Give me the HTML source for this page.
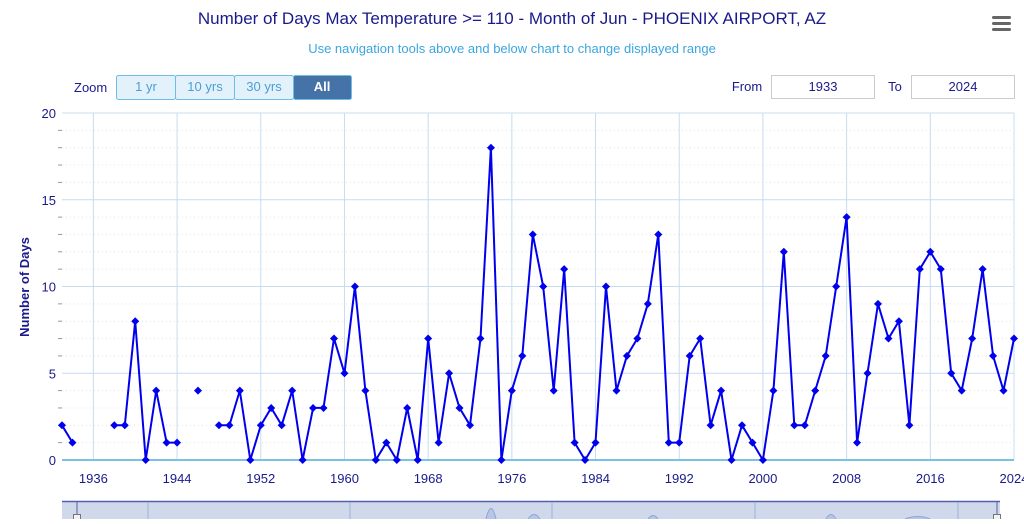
<!DOCTYPE html>
<html><head><meta charset="utf-8"><style>
body{margin:0;background:#fff;width:1024px;height:519px;overflow:hidden;font-family:"Liberation Sans",sans-serif}
</style></head><body>
<svg id="s" width="1024" height="519" xmlns="http://www.w3.org/2000/svg" font-family="Liberation Sans, sans-serif">
<text x="512" y="24" text-anchor="middle" font-size="17" fill="#1a1a8c">Number of Days Max Temperature &gt;= 110 - Month of Jun - PHOENIX AIRPORT, AZ</text>
<text x="512" y="53" text-anchor="middle" font-size="13" fill="#3aa6e0">Use navigation tools above and below chart to change displayed range</text>
<g fill="#666"><rect x="992" y="16" width="19" height="3" rx="1.5"/><rect x="992" y="22" width="19" height="3" rx="1.5"/><rect x="992" y="28" width="19" height="3" rx="1.5"/></g>
<text x="74" y="92" font-size="13" fill="#1a1a8c">Zoom</text>
<g font-size="13" text-anchor="middle">
<rect x="116.5" y="75.5" width="59" height="24" rx="2" fill="#e3f1fb" stroke="#6cbde8"/><text x="146" y="91" fill="#4a9fd6">1 yr</text>
<rect x="175.5" y="75.5" width="59" height="24" rx="2" fill="#e3f1fb" stroke="#6cbde8"/><text x="205" y="91" fill="#4a9fd6">10 yrs</text>
<rect x="234.5" y="75.5" width="59" height="24" rx="2" fill="#e3f1fb" stroke="#6cbde8"/><text x="264" y="91" fill="#4a9fd6">30 yrs</text>
<rect x="293.5" y="75.5" width="58" height="24" rx="2" fill="#4572a7" stroke="#6cbde8"/><text x="322" y="91" fill="#fff" font-weight="bold">All</text>
<text x="747" y="91" fill="#1a1a8c">From</text>
<rect x="771.5" y="75.5" width="103" height="23" fill="#fff" stroke="#ccc"/><text x="823" y="91" fill="#1a1a8c">1933</text>
<text x="895" y="91" fill="#1a1a8c">To</text>
<rect x="911.5" y="75.5" width="103" height="23" fill="#fff" stroke="#ccc"/><text x="963" y="91" fill="#1a1a8c">2024</text>
</g>
<text transform="translate(29,287) rotate(-90)" text-anchor="middle" font-size="13" font-weight="bold" fill="#1a1a8c">Number of Days</text>
<g id="grid"></g>
<g id="ser"></g>
<rect x="62" y="501" width="938" height="18" fill="#d0d8ec"/>
<line x1="62" y1="501.5" x2="1000" y2="501.5" stroke="#5560a8" stroke-width="1.5"/>
<g stroke="#9ab4d8"><line x1="148" y1="502" x2="148" y2="519"/><line x1="350" y1="502" x2="350" y2="519"/><line x1="552" y1="502" x2="552" y2="519"/><line x1="755" y1="502" x2="755" y2="519"/><line x1="958" y1="502" x2="958" y2="519"/></g>
<path d="M486 519 Q491 498 496 519 M528 519 Q534 510 540 519 M648 519 Q653 512 658 519 M826 519 Q831 510 836 519 M905 519 Q918 514 930 519" fill="#b8c6e6" stroke="#8ea6d6"/>
<line x1="77" y1="502" x2="77" y2="519" stroke="#5560a8"/><rect x="73.5" y="514.5" width="7" height="6" fill="#f2f2f2" stroke="#777"/>
<line x1="997" y1="502" x2="997" y2="519" stroke="#5560a8"/><rect x="993.5" y="514.5" width="7" height="6" fill="#f2f2f2" stroke="#777"/>
</svg>
<script>
var d={1933:2,1934:1,1938:2,1939:2,1940:8,1941:0,1942:4,1943:1,1944:1,1946:4,1948:2,1949:2,1950:4,1951:0,1952:2,1953:3,1954:2,1955:4,1956:0,1957:3,1958:3,1959:7,1960:5,1961:10,1962:4,1963:0,1964:1,1965:0,1966:3,1967:0,1968:7,1969:1,1970:5,1971:3,1972:2,1973:7,1974:18,1975:0,1976:4,1977:6,1978:13,1979:10,1980:4,1981:11,1982:1,1983:0,1984:1,1985:10,1986:4,1987:6,1988:7,1989:9,1990:13,1991:1,1992:1,1993:6,1994:7,1995:2,1996:4,1997:0,1998:2,1999:1,2000:0,2001:4,2002:12,2003:2,2004:2,2005:4,2006:6,2007:10,2008:14,2009:1,2010:5,2011:9,2012:7,2013:8,2014:2,2015:11,2016:12,2017:11,2018:5,2019:4,2020:7,2021:11,2022:6,2023:4,2024:7};
function X(y){return 62+(y-1933)*952/91}function Y(v){return 460-v*17.35}
var g='';
for(var v=1;v<20;v++){if(v%5)g+='<line x1="62" x2="1014" y1="'+Y(v)+'" y2="'+Y(v)+'" stroke="#e4e4e4" stroke-dasharray="1,3"/><line x1="58" x2="62" y1="'+Y(v)+'" y2="'+Y(v)+'" stroke="#999"/>';}
for(var v=5;v<=20;v+=5)g+='<line x1="62" x2="1014" y1="'+Y(v)+'" y2="'+Y(v)+'" stroke="#c6dcf0"/>';
for(var y=1936;y<=2024;y+=8){g+='<line x1="'+X(y)+'" x2="'+X(y)+'" y1="113" y2="460" stroke="#c6dcf0"/><text x="'+X(y)+'" y="483" text-anchor="middle" font-size="13" fill="#1a1a8c">'+y+'</text>';}
for(var v=0;v<=20;v+=5)g+='<text x="56" y="'+(Y(v)+5)+'" text-anchor="end" font-size="13" fill="#1a1a8c">'+v+'</text>';
g+='<line x1="62" x2="1014" y1="460" y2="460" stroke="#7cc0ea" stroke-width="2"/>';
document.getElementById('grid').innerHTML=g;
var s='',p='',pts='';
for(var y=1933;y<=2024;y++){if(d[y]===undefined){p='';continue;}var x=X(y),yy=Y(d[y]);p+=(p?'L':'M')+x.toFixed(1)+' '+yy.toFixed(1);s+=(d[y-1]===undefined?' M':' L')+x.toFixed(1)+' '+yy.toFixed(1);pts+='<path d="M'+x+' '+(yy-4)+'l4 4l-4 4l-4 -4z" fill="#0000ee"/>';}
document.getElementById('ser').innerHTML='<path d="'+s+'" fill="none" stroke="#0000ee" stroke-width="2" stroke-linejoin="round"/>'+pts;
</script>
</body></html>
